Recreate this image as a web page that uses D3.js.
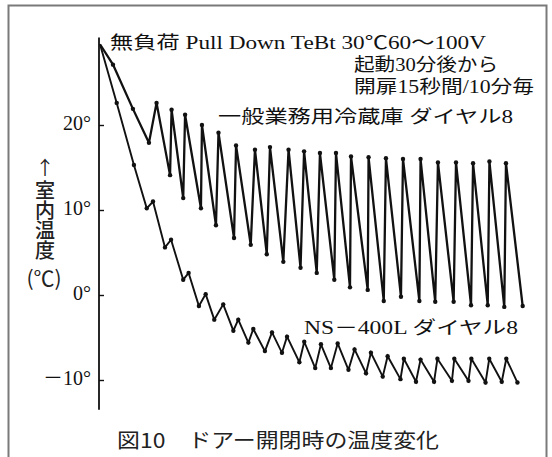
<!DOCTYPE html>
<html>
<head>
<meta charset="utf-8">
<script src="https://cdn.jsdelivr.net/npm/d3@7/dist/d3.min.js"></script>
<style>
  html, body { margin: 0; padding: 0; background: #fff; }
  svg { display: block; }
  .serif { font-family: 'Liberation Serif', 'Noto Sans CJK JP', serif; fill: #111; }
  .sans { font-family: 'Noto Sans CJK JP', 'Noto Sans', sans-serif; fill: #222; }
</style>
</head>
<body>
<svg id="chart" width="552" height="457"></svg>
<script>
// Elapsed time (minutes) and room temperature (°C) for the general-purpose refrigerator, dial 8
const upperMinutes = [0, 7.7, 19.5, 29.0,
  33.5, 41.5, 42.4, 49.3, 50.4, 59.8, 60.4, 68.7, 70.2, 79.4, 80.6, 89.3,
  91.8, 98.8, 100.7, 108.6, 111.7, 118.8, 120.9, 128.4, 130.3, 138.8, 139.8, 148.1,
  148.7, 158.6, 159.1, 168.1, 169.4, 178.3, 179.5, 189.2, 189.9, 198.6, 200.2, 209.5,
  210.9, 219.8, 221.0, 229.7, 230.7, 239.5, 240.5, 250.4];
const upperTemps = [29.5, 27.1, 21.9, 17.9,
  22.6, 14.1, 21.8, 11.4, 21.2, 10.2, 20.0, 8.2, 19.1, 6.7, 17.6, 5.9,
  17.1, 4.8, 17.4, 3.9, 17.1, 3.2, 16.9, 2.6, 16.7, 1.8, 16.7, 0.9,
  16.3, 0.6, 16.2, -0.7, 16.1, -0.2, 16.0, -0.7, 16.0, -0.8, 15.6, -0.8,
  15.6, -1.2, 15.5, -1.2, 15.7, -1.4, 15.5, -1.3];

// Elapsed time (minutes) and room temperature (°C) for the NS-400L, dial 8
const lowerMinutes = [0, 9.9, 20.1, 27.7,
  31.4, 38.5, 42.1, 49.3, 52.5, 58.6, 62.6, 67.7, 73.0, 79.0, 81.9, 87.9,
  90.8, 97.7, 101.9, 107.8, 110.8, 118.1, 121.0, 127.5, 130.9, 136.8, 140.8, 147.2,
  150.8, 157.6, 160.5, 167.5, 170.4, 178.0, 180.0, 187.2, 189.9, 197.9, 199.9, 208.5,
  209.9, 218.3, 220.0, 228.4, 230.6, 238.0, 240.7, 247.3];
const lowerTemps = [29.5, 22.6, 15.3, 10.2,
  11.0, 5.6, 6.5, 1.8, 2.6, -1.3, 0.1, -2.9, -1.1, -4.2, -2.9, -5.6,
  -4.0, -6.6, -4.4, -6.8, -4.9, -7.9, -5.5, -8.6, -5.8, -8.6, -5.7, -8.8,
  -6.4, -9.2, -6.8, -9.6, -7.2, -9.9, -7.5, -10.2, -7.6, -10.2, -7.5, -10.1,
  -7.5, -10.1, -7.5, -10.3, -7.5, -10.2, -7.5, -10.3];

const tickValues = [20, 10, 0, -10];
const tickLabels = ["20°", "10°", "0°", "－10°"];

const titleLines = ["無負荷 Pull Down TeBt 30℃60～100V", "起動30分後から", "開扉15秒間/10分毎"];
const seriesLabels = ["一般業務用冷蔵庫 ダイヤル8", "NS－400L ダイヤル8"];
const yArrow = "↑";
const yTitle = "室内温度";
const yUnit = "(℃)";
const caption = "図10　ドアー開閉時の温度変化";

const svg = d3.select("#chart");

// frame
svg.append("rect")
  .attr("x", 8.5).attr("y", 5.5).attr("width", 538).attr("height", 455)
  .attr("fill", "none").attr("stroke", "#7a7a7a").attr("stroke-width", 2);

const x = d3.scaleLinear().domain([0, 250]).range([100, 522]);
const y = d3.scaleLinear().domain([-10, 20]).range([380, 125]);

// vertical temperature axis
const axisX = 99;
const axis = d3.axisRight(y).tickValues(tickValues).tickSize(5).tickFormat("").tickSizeOuter(0);
const axisG = svg.append("g").attr("transform", `translate(${axisX},0)`).call(axis);
axisG.select(".domain").remove();
axisG.selectAll(".tick line").attr("stroke", "#111").attr("stroke-width", 1.4);
svg.append("line")
  .attr("x1", axisX).attr("x2", axisX)
  .attr("y1", y(30.3)).attr("y2", y(-13.5))
  .attr("stroke", "#111").attr("stroke-width", 1.8);

svg.selectAll(".ylab").data(tickValues).enter().append("text")
  .attr("class", "serif")
  .attr("x", 91).attr("y", d => y(d) - 2)
  .attr("text-anchor", "end").attr("dominant-baseline", "central")
  .attr("font-size", 20)
  .text((d, i) => tickLabels[i]);

// temperature curves
const line = d3.line().x(d => x(d[0])).y(d => y(d[1]));
const upper = upperMinutes.map((m, i) => [m, upperTemps[i]]);
const lower = lowerMinutes.map((m, i) => [m, lowerTemps[i]]);

[[upper, 2.3], [lower, 1.9]].forEach(([pts, w]) => {
  svg.append("path").datum(pts)
    .attr("d", line).attr("fill", "none")
    .attr("stroke", "#111").attr("stroke-width", w)
    .attr("stroke-linejoin", "miter").attr("stroke-miterlimit", 3);
  svg.append("g").selectAll("circle").data(pts.slice(1)).enter().append("circle")
    .attr("cx", d => x(d[0])).attr("cy", d => y(d[1])).attr("r", 2.2)
    .attr("fill", "#111");
});

// annotation texts
svg.append("text").attr("class", "serif")
  .attr("x", 110).attr("y", 43).attr("dominant-baseline", "central")
  .attr("font-size", 18).attr("textLength", 376).attr("lengthAdjust", "spacingAndGlyphs")
  .text(titleLines[0]);
svg.append("text").attr("class", "serif")
  .attr("x", 354).attr("y", 65).attr("dominant-baseline", "central")
  .attr("font-size", 18).attr("textLength", 144).attr("lengthAdjust", "spacingAndGlyphs")
  .text(titleLines[1]);
svg.append("text").attr("class", "serif")
  .attr("x", 354).attr("y", 87).attr("dominant-baseline", "central")
  .attr("font-size", 18).attr("textLength", 180).attr("lengthAdjust", "spacingAndGlyphs")
  .text(titleLines[2]);

svg.append("text").attr("class", "serif")
  .attr("x", 218).attr("y", 117).attr("dominant-baseline", "central")
  .attr("font-size", 18).attr("textLength", 295).attr("lengthAdjust", "spacingAndGlyphs")
  .text(seriesLabels[0]);
svg.append("text").attr("class", "serif")
  .attr("x", 304).attr("y", 328).attr("dominant-baseline", "central")
  .attr("font-size", 18).attr("textLength", 214).attr("lengthAdjust", "spacingAndGlyphs")
  .text(seriesLabels[1]);

// y-axis title: arrow, vertical characters, unit
svg.append("text").attr("class", "sans")
  .attr("x", 45).attr("y", 166)
  .attr("text-anchor", "middle").attr("dominant-baseline", "central")
  .attr("font-size", 19)
  .text(yArrow);
svg.append("text").attr("class", "sans")
  .attr("x", 45).attr("y", 180)
  .attr("writing-mode", "vertical-rl")
  .style("text-orientation", "upright")
  .attr("font-size", 20).attr("font-weight", 500)
  .text(yTitle);
svg.append("text").attr("class", "sans")
  .attr("x", 44).attr("y", 277)
  .attr("text-anchor", "middle").attr("dominant-baseline", "central")
  .attr("font-size", 21)
  .text(yUnit);

// caption
svg.append("text").attr("class", "sans")
  .attr("x", 117).attr("y", 439).attr("dominant-baseline", "central")
  .attr("font-size", 20).attr("textLength", 322).attr("lengthAdjust", "spacingAndGlyphs")
  .text(caption);
</script>
</body>
</html>
